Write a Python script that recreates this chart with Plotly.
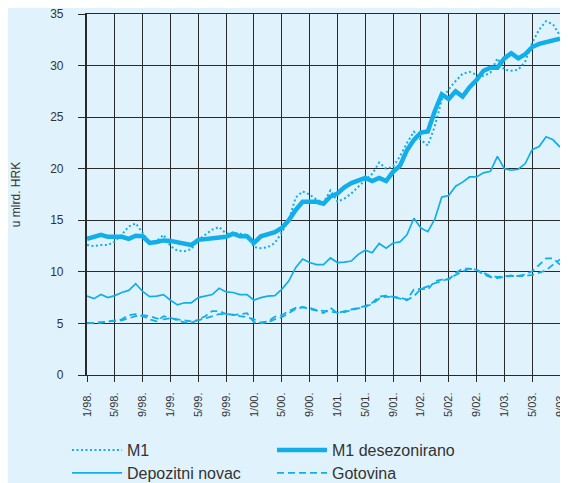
import plotly.graph_objects as go

# Month labels 1/98 ... 9/03 (69 monthly observations)
years = ["98", "99", "00", "01", "02", "03"]
month_labels = [f"{mo}/{yy}." for yy in years for mo in range(1, 13)][:69]
x_idx = list(range(len(month_labels)))

m1 = [12.6, 12.5, 12.6, 12.6, 12.95, 13.6, 14.4, 14.7, 13.8, 12.8, 12.95, 13.6,
      12.5, 12.05, 12.0, 12.2, 13.1, 13.6, 14.1, 14.35, 13.7, 13.8, 13.7, 13.6,
      12.4, 12.3, 12.4, 12.8, 13.8, 15.0, 17.2, 17.8, 17.5, 17.0, 16.7, 17.9,
      16.8, 17.1, 17.6, 18.3, 18.9, 19.5, 20.6, 20.0, 20.2, 21.2, 22.5, 23.6,
      22.8, 22.25, 24.1, 26.7, 27.7, 28.5, 29.2, 29.4, 29.1, 29.0, 29.3, 30.7,
      29.6, 29.5, 29.6, 30.4, 32.2, 33.5, 34.3, 34.0, 32.9]

m1_sa = [13.2, 13.4, 13.6, 13.4, 13.4, 13.4, 13.2, 13.5, 13.45, 12.8, 12.9, 13.05,
         13.0, 12.9, 12.8, 12.6, 13.1, 13.2, 13.2, 13.35, 13.4, 13.7, 13.45, 13.45,
         12.8, 13.45, 13.6, 13.85, 14.25, 15.0, 16.0, 16.8, 16.8, 16.8, 16.6, 17.3,
         17.6, 18.2, 18.6, 18.9, 19.1, 18.8, 19.1, 18.8, 19.7, 20.3, 21.8, 22.8,
         23.5, 23.6, 25.6, 27.2, 26.75, 27.5, 27.0, 27.9, 28.6, 29.5, 29.8, 29.8,
         30.7, 31.2, 30.7, 31.1, 31.8, 32.1, 32.25, 32.35, 32.6]

depozitni = [7.65, 7.4, 7.8, 7.5, 7.7, 8.0, 8.2, 8.85, 8.1, 7.6, 7.65, 7.8,
             7.25, 6.8, 7.0, 7.0, 7.5, 7.65, 7.8, 8.4, 8.05, 8.0, 7.8, 7.8,
             7.25, 7.5, 7.65, 7.7, 8.3, 9.1, 10.4, 11.25, 10.9, 10.7, 10.7, 11.35,
             10.9, 10.95, 11.05, 11.7, 12.1, 11.85, 12.75, 12.3, 12.8, 12.9, 13.6, 15.2,
             14.25, 13.9, 15.1, 17.25, 17.4, 18.3, 18.7, 19.2, 19.2, 19.6, 19.75, 21.2,
             20.0, 19.85, 19.95, 20.5, 21.85, 22.15, 23.1, 22.8, 22.1]

gotovina = [5.05, 5.0, 5.05, 5.2, 5.3, 5.4, 5.8, 5.9, 5.7, 5.4, 5.2, 5.7,
            5.55, 5.3, 5.1, 5.05, 5.4, 5.7, 6.2, 6.2, 5.9, 5.8, 5.9, 6.0,
            5.1, 5.1, 5.2, 5.65, 5.8, 6.2, 6.5, 6.6, 6.4, 6.25, 6.0, 6.5,
            6.0, 6.2, 6.35, 6.5, 6.7, 7.0, 7.6, 7.7, 7.6, 7.5, 7.3, 8.3,
            8.35, 8.3, 9.1, 9.25, 9.25, 9.9, 10.3, 10.3, 10.2, 9.75, 9.5, 9.4,
            9.5, 9.6, 9.6, 9.75, 10.05, 10.7, 11.3, 11.3, 10.7]

gotovina_sa = [5.0, 5.05, 5.1, 5.15, 5.2, 5.3, 5.5, 5.7, 5.8, 5.7, 5.5, 5.4,
               5.5, 5.4, 5.3, 5.2, 5.3, 5.5, 5.7, 5.9, 5.9, 5.85, 5.7, 5.6,
               5.4, 5.0, 5.1, 5.4, 5.6, 6.0, 6.4, 6.55, 6.5, 6.3, 6.2, 6.1,
               6.05, 6.1, 6.3, 6.45, 6.6, 6.9, 7.4, 7.6, 7.55, 7.4, 7.25, 7.65,
               8.35, 8.6, 8.9, 9.1, 9.35, 9.7, 10.05, 10.3, 10.2, 9.9, 9.6, 9.5,
               9.6, 9.65, 9.6, 9.6, 9.7, 9.9, 10.15, 10.7, 11.2]

y_ticks = [0, 5, 10, 15, 20, 25, 30, 35]
x_tick_idx = list(range(0, 69, 4))
x_tick_text = [month_labels[i] for i in x_tick_idx]

BLUE = "#12aee9"
BG = "#e0f2fc"
GRID = "#2a2a2a"
TXT = "#333333"

# the page body adds an 8px margin, so the figure is 8px smaller on each axis
W, H = 560, 475

fig = go.Figure()
fig.add_trace(go.Scatter(x=x_idx, y=m1, mode="lines", name="M1", legend="legend",
                         line=dict(color=BLUE, width=2, dash="2px,2.5px")))
fig.add_trace(go.Scatter(x=x_idx, y=m1_sa, mode="lines", name="M1 desezonirano", legend="legend",
                         line=dict(color=BLUE, width=4.5)))
fig.add_trace(go.Scatter(x=x_idx, y=depozitni, mode="lines", name="Depozitni novac", legend="legend2",
                         line=dict(color=BLUE, width=1.7)))
fig.add_trace(go.Scatter(x=x_idx, y=gotovina, mode="lines", name="Gotovina", legend="legend2",
                         line=dict(color=BLUE, width=1.8, dash="7px,4px")))
fig.add_trace(go.Scatter(x=x_idx, y=gotovina_sa, mode="lines", name="Gotovina desezonirano",
                         showlegend=False,
                         line=dict(color=BLUE, width=1.8, dash="7px,4px")))

leg_common = dict(orientation="h", xref="container", yref="container",
                  x=59 / W, xanchor="left", yanchor="middle",
                  entrywidth=140, entrywidthmode="pixels", itemwidth=50,
                  font=dict(size=16, color=TXT), bgcolor="rgba(0,0,0,0)",
                  traceorder="normal")

fig.update_layout(
    width=W, height=H,
    margin=dict(l=79, r=8, t=6, b=108, autoexpand=False),
    paper_bgcolor=BG, plot_bgcolor=BG,
    font=dict(family="Liberation Sans, Arial, sans-serif", color=TXT, size=11),
    showlegend=True,
    legend=dict(**leg_common, y=1 - 442 / H),
    legend2=dict(**leg_common, y=1 - 465 / H),
)

fig.update_xaxes(
    range=[0, 68], tickvals=x_tick_idx, ticktext=x_tick_text, tickangle=-90,
    showgrid=True, gridcolor=GRID, gridwidth=1.3,
    ticks="outside", ticklen=6, tickcolor=GRID, tickwidth=1.3,
    showline=True, linecolor=GRID, linewidth=1.3, mirror=True,
    zeroline=False, tickfont=dict(size=11, color=TXT), automargin=False,
    ticklabelstandoff=6, ticklabeloverflow="allow",
)
fig.update_yaxes(
    range=[0, 35], tickvals=y_ticks, showgrid=True, gridcolor=GRID, gridwidth=1.3,
    ticks="outside", ticklen=7, tickcolor=GRID, tickwidth=1.3,
    showline=True, linecolor=GRID, linewidth=2.2, mirror=True,
    zeroline=True, zerolinecolor=GRID, zerolinewidth=2.2,
    title=dict(text="u mlrd. HRK", font=dict(size=12, color=TXT), standoff=27),
    tickfont=dict(size=12, color=TXT), automargin=False,
    ticklabelstandoff=12, ticklabeloverflow="allow",
)

fig.write_html("out.html")
